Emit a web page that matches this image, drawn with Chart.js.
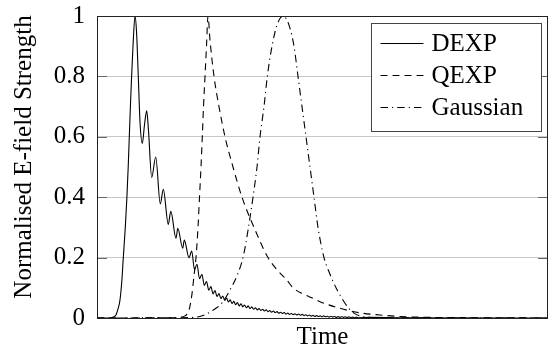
<!DOCTYPE html>
<html>
<head>
<meta charset="utf-8">
<script src="https://cdn.jsdelivr.net/npm/chart.js@4.4.1/dist/chart.umd.min.js"></script>
<style>
  html, body { margin: 0; padding: 0; background: #fff; }
</style>
</head>
<body>
<canvas id="chart" width="550" height="352"></canvas>
<script>
// pulse shapes, time in arbitrary units (0..451)
const seriesNames = ['DEXP', 'QEXP', 'Gaussian'];
const yTickLabels = ['0', '0.2', '0.4', '0.6', '0.8', '1'];
const axisTitles = ['Time', 'Normalised E-field Strength'];

const dexpTime = [0, 13, 17, 19, 21, 23, 25, 26.3, 28.3, 29.9, 31.2, 32.3, 33.4, 34.6, 36, 38,
  39.5, 41.3, 43, 45.3, 47.5, 49.7, 51.5, 54.7, 58.7, 63.3, 66.3, 71.3, 73.8, 79, 80.8, 85.7, 87.3,
  92, 94.7, 97.5, 100, 102.5, 104.9, 107.3, 109.5, 111.8, 113.9, 116, 118, 120, 122, 123.9, 125.8,
  127.7, 129.6, 131.4, 133.2, 135, 136.8, 138.6, 140.4, 142.2, 144, 145.8, 147.6, 149.4, 151.2,
  153, 154.8, 156.6, 158.4, 160.2, 162, 163.8, 165.6, 167.4, 169.2, 171, 172.8, 174.6, 176.4,
  178.2, 180, 181.8, 183.6, 185.4, 187.2, 189, 190.8, 192.6, 194.4, 196.2, 198, 199.8, 201.6,
  203.4, 205.2, 207, 208.8, 210.6, 212.4, 214.2, 216, 217.8, 219.6, 221.4, 223.2, 225, 226.8,
  228.6, 230.4, 232.2, 234, 235.8, 237.6, 239.4, 241.2, 243, 244.8, 246.6, 248.4, 250.2, 252,
  253.8, 255.6, 257.4, 259.2, 261, 273, 303, 451];
const dexpValue = [0, 0, 0.004, 0.01, 0.03, 0.06, 0.13, 0.2, 0.3, 0.4, 0.5, 0.6, 0.7, 0.8, 0.9, 1.0,
  0.95, 0.8, 0.65, 0.578, 0.64, 0.686, 0.62, 0.465, 0.533, 0.378, 0.426, 0.31, 0.353, 0.264, 0.297, 0.231, 0.258,
  0.2, 0.222, 0.16, 0.178, 0.13, 0.145, 0.108, 0.121, 0.092, 0.104, 0.08, 0.091, 0.071, 0.081, 0.064, 0.073,
  0.058, 0.066, 0.053, 0.06, 0.048, 0.055, 0.044, 0.051, 0.04, 0.047, 0.037, 0.043, 0.034, 0.04,
  0.031, 0.037, 0.029, 0.034, 0.027, 0.031, 0.025, 0.029, 0.023, 0.027, 0.021, 0.025, 0.019, 0.023,
  0.018, 0.021, 0.016, 0.019, 0.015, 0.018, 0.013, 0.016, 0.012, 0.015, 0.011, 0.014, 0.01, 0.013,
  0.009, 0.012, 0.008, 0.011, 0.007, 0.01, 0.006, 0.009, 0.005, 0.008, 0.005, 0.007, 0.004, 0.007,
  0.004, 0.006, 0.003, 0.006, 0.003, 0.005, 0.002, 0.005, 0.002, 0.004, 0.002, 0.004, 0.001, 0.004,
  0.001, 0.003, 0.001, 0.003, 0.001, 0.002, 0.001, 0];

const qexpTime = [0, 73, 83, 88, 92, 95, 97, 99, 101, 102.5, 104, 105.3, 106.5, 108, 109.5, 111,
  113, 117, 122, 128, 136, 145, 157, 171, 180, 190, 196, 206, 216, 226, 240, 250, 263, 283, 303, 333, 373, 451];
const qexpValue = [0, 0.001, 0.003, 0.007, 0.026, 0.08, 0.14, 0.2, 0.3, 0.4, 0.5, 0.6, 0.7, 0.8, 0.9, 1.0,
  0.92, 0.8, 0.7, 0.6, 0.5, 0.4, 0.3, 0.2, 0.16, 0.125, 0.1, 0.08, 0.065, 0.05, 0.035, 0.026, 0.017, 0.01, 0.005, 0.002, 0.001, 0];

const gaussTime = [0, 83, 103, 116, 125, 133, 140, 146, 151, 156, 160, 163, 167, 170.3, 175, 180, 186,
  192, 197, 201, 205, 209, 213, 217, 221, 227, 233, 239, 245, 251, 257, 265, 283, 451];
const gaussValue = [0, 0.001, 0.005, 0.026, 0.05, 0.093, 0.14, 0.2, 0.29, 0.4, 0.5, 0.6, 0.7, 0.8, 0.9, 0.97, 1.0,
  0.97, 0.9, 0.8, 0.7, 0.6, 0.5, 0.4, 0.3, 0.2, 0.145, 0.1, 0.065, 0.035, 0.016, 0.005, 0.001, 0];

const toPoints = (xs, ys) => xs.map((x, i) => ({ x: x, y: ys[i] }));

const serif = 'Liberation Serif, Times New Roman, serif';
const dashes = [[], [7, 5], [7.5, 4, 1.2, 4]];

// frame, inward ticks, y title and boxed legend like pgfplots
const framePlugin = {
  id: 'frame',
  afterDatasetsDraw(chart) {
    const { ctx, chartArea: a } = chart;
    const yScale = chart.scales.y;
    ctx.save();
    ctx.strokeStyle = '#666';
    ctx.lineWidth = 1;
    yScale.ticks.forEach(t => {
      const y = Math.round(yScale.getPixelForValue(t.value)) + 0.5;
      ctx.beginPath();
      ctx.moveTo(a.left, y); ctx.lineTo(a.left + 10, y);
      ctx.moveTo(a.right - 10, y); ctx.lineTo(a.right, y);
      ctx.stroke();
    });
    ctx.strokeStyle = '#222';
    ctx.strokeRect(Math.round(a.left) + 0.5, Math.round(a.top) + 0.5,
      Math.round(a.right - a.left) - 1, Math.round(a.bottom - a.top));

    // y axis title
    ctx.fillStyle = '#000';
    ctx.font = '25px ' + serif;
    ctx.textAlign = 'center';
    ctx.textBaseline = 'middle';
    ctx.save();
    ctx.translate(24.5, (a.top + a.bottom) / 2 - 10);
    ctx.rotate(-Math.PI / 2);
    ctx.fillText(axisTitles[1], 0, 0);
    ctx.restore();

    // legend
    const bx = Math.round(a.right - 177) + 0.5, by = Math.round(a.top + 7) + 0.5;
    const bw = 170, bh = 108;
    ctx.fillStyle = '#fff';
    ctx.fillRect(bx, by, bw, bh);
    ctx.strokeStyle = '#444';
    ctx.strokeRect(bx, by, bw, bh);
    ctx.textAlign = 'left';
    chart.data.datasets.forEach((ds, i) => {
      const y = by + 20 + i * 32;
      ctx.strokeStyle = '#000';
      ctx.lineWidth = 1.1;
      ctx.setLineDash(ds.borderDash || []);
      ctx.beginPath();
      ctx.moveTo(bx + 9, y); ctx.lineTo(bx + 52, y);
      ctx.stroke();
      ctx.setLineDash([]);
      ctx.fillStyle = '#000';
      ctx.fillText(ds.label, bx + 60, y + 1);
    });
    ctx.restore();
  }
};

const ctx = document.getElementById('chart').getContext('2d');
const chart = new Chart(ctx, {
  type: 'line',
  data: {
    datasets: [
      { label: seriesNames[0], data: toPoints(dexpTime, dexpValue) },
      { label: seriesNames[1], data: toPoints(qexpTime, qexpValue) },
      { label: seriesNames[2], data: toPoints(gaussTime, gaussValue) }
    ].map((ds, i) => Object.assign(ds, {
      borderColor: '#000',
      borderWidth: 1.1,
      borderDash: dashes[i],
      pointRadius: 0,
      cubicInterpolationMode: 'monotone',
      fill: false
    }))
  },
  options: {
    responsive: false,
    animation: false,
    devicePixelRatio: 1,
    layout: { padding: { top: 16, right: 2, left: 0, bottom: 0 } },
    plugins: { legend: { display: false }, tooltip: { enabled: false } },
    scales: {
      x: {
        type: 'linear',
        min: 0,
        max: 451,
        grid: { display: false },
        border: { display: false },
        ticks: { display: false },
        title: { display: true, text: axisTitles[0], color: '#000', font: { family: serif, size: 25 }, padding: 0 },
        afterFit(scale) { scale.height = 34; }
      },
      y: {
        min: 0,
        max: 1,
        border: { display: false },
        grid: { color: '#c8c8c8', lineWidth: 1, drawTicks: false },
        ticks: {
          stepSize: 0.2,
          padding: 12,
          color: '#000',
          font: { family: serif, size: 25 },
          callback: (v, i) => yTickLabels[i]
        },
        afterFit(scale) {
          scale.width = 97;
          scale.paddingTop = 0;
          scale.paddingBottom = 0;
        }
      }
    }
  },
  plugins: [framePlugin]
});
</script>
</body>
</html>
